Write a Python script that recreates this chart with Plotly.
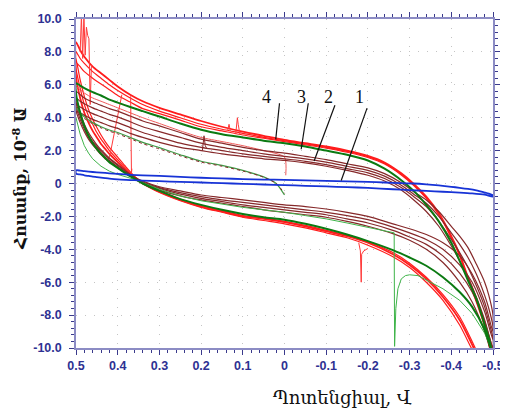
import plotly.graph_objects as go

# ---------------- data ----------------
XU = [0.50, 0.49, 0.48, 0.46, 0.44, 0.42, 0.40, 0.37, 0.34, 0.30, 0.25, 0.20, 0.15, 0.10, 0.05, 0.00,
      -0.05, -0.10, -0.15, -0.20, -0.24, -0.28, -0.31, -0.34, -0.37, -0.40, -0.42, -0.44, -0.46, -0.48, -0.49, -0.50]
XL = [0.50, 0.49, 0.48, 0.47, 0.46, 0.45, 0.44, 0.43, 0.42, 0.40, 0.38, 0.36, 0.34, 0.30, 0.25, 0.20, 0.15, 0.10,
      0.05, 0.00, -0.05, -0.10, -0.15, -0.20, -0.26, -0.30, -0.34, -0.38, -0.42, -0.45, -0.48, -0.50]

# curve 4 (red)
RU1 = [8.6, 8.1, 7.7, 7.1, 6.7, 6.3, 5.9, 5.4, 5.0, 4.6, 4.2, 3.8, 3.45, 3.15, 2.9, 2.65, 2.45, 2.25, 2.0, 1.68,
       1.28, 0.62, -0.02, -0.8, -1.8, -3.2, -4.3, -5.7, -7.0, -8.5, -9.6, -10.8]
RU2 = [8.0, 7.6, 7.3, 6.8, 6.4, 6.0, 5.65, 5.2, 4.8, 4.4, 4.0, 3.6, 3.3, 3.05, 2.8, 2.6, 2.4, 2.2, 1.95, 1.63,
       1.23, 0.57, -0.07, -0.85, -1.85, -3.25, -4.35, -5.75, -7.1, -8.6, -9.7, -10.9]
RU3 = [7.4, 7.1, 6.8, 6.4, 6.05, 5.7, 5.35, 4.95, 4.55, 4.25, 3.85, 3.45, 3.2, 2.95, 2.75, 2.55, 2.35, 2.15, 1.9, 1.58,
       1.18, 0.52, -0.12, -0.9, -1.9, -3.3, -4.4, -5.8, -7.2, -8.7, -9.8, -11.0]
RL1 = [6.5, 5.2, 4.3, 3.7, 3.2, 2.8, 2.4, 2.1, 1.8, 1.3, 0.8, 0.35, 0.0, -0.5, -1.0, -1.4, -1.7, -2.0, -2.15, -2.35,
       -2.6, -2.9, -3.2, -3.6, -4.3, -4.95, -5.8, -6.9, -8.3, -9.8, -11.5, -12.5]
RL2 = [7.0, 5.8, 4.8, 4.1, 3.6, 3.1, 2.7, 2.35, 2.0, 1.45, 0.9, 0.4, 0.0, -0.55, -1.05, -1.45, -1.75, -2.05, -2.25, -2.45,
       -2.7, -3.0, -3.3, -3.75, -4.45, -5.1, -6.0, -7.1, -8.6, -10.1, -11.5, -12.5]
RL3 = [7.6, 6.3, 5.3, 4.5, 3.9, 3.4, 2.95, 2.55, 2.2, 1.6, 1.0, 0.45, 0.05, -0.45, -0.95, -1.35, -1.65, -1.95, -2.1, -2.3,
       -2.55, -2.85, -3.15, -3.55, -4.2, -4.85, -5.7, -6.75, -8.1, -9.6, -11.3, -12.5]
XRP = [0.50, 0.49, 0.48, 0.46, 0.44, 0.42, 0.40, 0.37, 0.34, 0.30, 0.25, 0.20, 0.15, 0.10, 0.05, 0.00, -0.003]
RP = [5.9, 5.7, 5.5, 5.2, 5.0, 4.8, 4.6, 4.3, 4.0, 3.65, 3.2, 2.8, 2.55, 2.3, 2.0, 1.6, 0.5]
NOISE_X = [0.49, 0.487, 0.484, 0.481, 0.478, 0.475, 0.472, 0.469, 0.466, 0.463, None,
           0.39, 0.397, 0.405, 0.413, 0.418, 0.422, None,
           0.369, 0.368, 0.367, 0.366, None,
           0.117, 0.113, 0.111, 0.107, None,
           0.136, 0.133, 0.130, None,
           -0.178, -0.182, -0.184, -0.185, -0.19, -0.2]
NOISE_Y = [8.0, 10.2, 7.6, 10.2, 7.8, 9.5, 9.0, 8.8, 4.8, 7.2, None,
           5.4, 4.5, 3.5, 2.4, 1.8, 1.5, None,
           5.3, 2.0, 0.6, 0.9, None,
           3.0, 4.0, 3.6, 3.0, None,
           3.25, 3.6, 3.2, None,
           -3.6, -4.1, -6.0, -4.3, -4.1, -3.95]

# curve 2 (maroon)
MU1 = [5.6, 5.4, 5.2, 4.95, 4.75, 4.55, 4.4, 4.1, 3.8, 3.5, 3.1, 2.7, 2.45, 2.2, 2.0, 1.85, 1.65, 1.45, 1.2, 0.95,
       0.6, 0.05, -0.5, -1.0, -1.7, -2.6, -3.2, -3.9, -4.9, -6.0, -6.8, -8.0]
MU2 = [5.2, 5.0, 4.85, 4.6, 4.4, 4.2, 4.05, 3.75, 3.45, 3.15, 2.8, 2.45, 2.2, 2.0, 1.8, 1.65, 1.5, 1.3, 1.05, 0.8,
       0.45, -0.1, -0.65, -1.2, -2.0, -3.0, -3.7, -4.5, -5.5, -6.8, -7.6, -8.7]
MU3 = [4.8, 4.65, 4.5, 4.25, 4.05, 3.85, 3.7, 3.4, 3.1, 2.8, 2.45, 2.2, 2.0, 1.8, 1.65, 1.5, 1.35, 1.15, 0.9, 0.65,
       0.3, -0.25, -0.8, -1.4, -2.3, -3.4, -4.2, -5.1, -6.2, -7.5, -8.4, -9.4]
MU4 = [4.4, 4.3, 4.15, 3.9, 3.7, 3.5, 3.35, 3.05, 2.8, 2.5, 2.2, 2.0, 1.8, 1.65, 1.5, 1.4, 1.25, 1.05, 0.8, 0.5,
       0.15, -0.4, -1.0, -1.7, -2.6, -3.8, -4.7, -5.7, -6.9, -8.3, -9.2, -10.2]
ML1 = [5.3, 4.3, 3.6, 3.1, 2.7, 2.35, 2.05, 1.8, 1.55, 1.15, 0.75, 0.4, 0.15, -0.2, -0.45, -0.7, -0.85, -1.0, -1.15, -1.3,
       -1.4, -1.55, -1.75, -2.0, -2.45, -2.75, -3.1, -3.6, -4.4, -5.5, -7.2, -9.0]
ML2 = [5.0, 4.1, 3.45, 2.95, 2.55, 2.25, 1.95, 1.7, 1.5, 1.1, 0.7, 0.35, 0.1, -0.25, -0.55, -0.8, -1.0, -1.15, -1.3, -1.45,
       -1.6, -1.75, -1.95, -2.2, -2.65, -3.0, -3.4, -4.0, -4.95, -6.0, -7.8, -9.5]
ML3 = [4.7, 3.9, 3.3, 2.8, 2.45, 2.15, 1.85, 1.6, 1.4, 1.0, 0.65, 0.3, 0.05, -0.3, -0.65, -0.9, -1.1, -1.3, -1.45, -1.6,
       -1.75, -1.9, -2.15, -2.4, -2.85, -3.25, -3.7, -4.4, -5.45, -6.6, -8.4, -10.0]
ML4 = [4.4, 3.7, 3.15, 2.7, 2.35, 2.05, 1.75, 1.5, 1.3, 0.95, 0.6, 0.3, 0.0, -0.4, -0.75, -1.0, -1.2, -1.4, -1.6, -1.75,
       -1.9, -2.05, -2.3, -2.6, -3.05, -3.45, -4.0, -4.8, -6.0, -7.2, -9.0, -10.6]
MS_X = [0.197, 0.193, 0.19, 0.186]
MS_Y = [2.0, 2.9, 2.3, 2.1]
XMP = [0.50, 0.49, 0.48, 0.46, 0.44, 0.42, 0.40, 0.37, 0.34, 0.30, 0.25, 0.20, 0.15, 0.10, 0.05, 0.02, 0.00]
MP = [4.5, 4.2, 3.95, 3.62, 3.38, 3.18, 3.02, 2.72, 2.42, 2.1, 1.68, 1.3, 1.05, 0.76, 0.38, 0.0, -0.6]

# curve 3 (green)
GU1 = [6.1, 5.95, 5.8, 5.55, 5.35, 5.1, 4.92, 4.65, 4.4, 4.07, 3.65, 3.27, 3.0, 2.8, 2.6, 2.45, 2.25, 2.0, 1.75, 1.4,
       0.9, 0.2, -0.45, -1.3, -2.3, -3.6, -4.7, -5.9, -7.0, -8.6, -9.4, -10.5]
GL1 = [5.5, 4.3, 3.5, 2.9, 2.45, 2.1, 1.8, 1.55, 1.3, 0.95, 0.6, 0.3, 0.0, -0.45, -0.95, -1.3, -1.6, -1.85, -2.05, -2.2,
       -2.45, -2.75, -3.1, -3.5, -4.05, -4.5, -5.0, -5.7, -6.6, -7.5, -8.9, -10.5]
XG2U = [0.50, 0.49, 0.48, 0.46, 0.44, 0.42, 0.40, 0.37, 0.34, 0.30, 0.25, 0.20, 0.15, 0.10, 0.05, 0.02, 0.00]
GU2 = [4.6, 4.3, 4.05, 3.7, 3.45, 3.25, 3.1, 2.8, 2.5, 2.18, 1.75, 1.35, 1.1, 0.8, 0.4, 0.0, -0.7]
XG2L = [0.50, 0.49, 0.48, 0.47, 0.46, 0.45, 0.44, 0.43, 0.42, 0.40, 0.38, 0.36, 0.34, 0.30, 0.25, 0.20, 0.15, 0.10,
        0.05, 0.00, -0.05, -0.10, -0.15, -0.20, -0.263, -0.264, -0.267, -0.272, -0.28, -0.29, -0.30, -0.32, -0.34,
        -0.38, -0.42, -0.45, -0.48, -0.50]
GL2 = [4.0, 3.0, 2.3, 1.85, 1.5, 1.25, 1.05, 0.9, 0.75, 0.55, 0.4, 0.25, 0.05, -0.35, -0.75, -1.05, -1.25, -1.45,
       -1.6, -1.75, -1.95, -2.15, -2.4, -2.65, -3.0, -9.9, -7.6, -6.4, -5.8, -5.6, -5.55, -5.6, -5.85,
       -6.4, -7.1, -7.9, -9.1, -10.3]

# curve 1 (blue)
BU = [0.8, 0.78, 0.75, 0.7, 0.66, 0.62, 0.58, 0.53, 0.5, 0.46, 0.4, 0.35, 0.31, 0.27, 0.24, 0.22, 0.19, 0.16, 0.13, 0.1,
      0.06, 0.02, 0.0, -0.05, -0.12, -0.2, -0.26, -0.33, -0.42, -0.55, -0.62, -0.72]
BL = [0.6, 0.55, 0.5, 0.46, 0.42, 0.39, 0.36, 0.33, 0.3, 0.25, 0.22, 0.2, 0.18, 0.14, 0.1, 0.06, 0.02, -0.02, -0.06, -0.1,
      -0.14, -0.18, -0.22, -0.27, -0.35, -0.4, -0.45, -0.5, -0.55, -0.6, -0.68, -0.8]

X_TICKS = [0.5, 0.4, 0.3, 0.2, 0.1, 0.0, -0.1, -0.2, -0.3, -0.4, -0.5]
X_TICKTEXT = ["0.5", "0.4", "0.3", "0.2", "0.1", "0", "-0.1", "-0.2", "-0.3", "-0.4", "-0.5"]
Y_TICKS = [10, 8, 6, 4, 2, 0, -2, -4, -6, -8, -10]
Y_TICKTEXT = ["10.0", "8.0", "6.0", "4.0", "2.0", "0", "-2.0", "-4.0", "-6.0", "-8.0", "-10.0"]

CURVE_LABELS = ["4", "3", "2", "1"]
LABEL_X = [0.043, -0.040, -0.105, -0.181]
LABEL_Y = [5.24, 5.24, 5.24, 5.24]
LEADER_X0 = [0.012, -0.057, -0.121, -0.198]
LEADER_Y0 = [4.88, 4.88, 4.76, 4.58]
LEADER_X1 = [0.021, -0.040, -0.071, -0.136]
LEADER_Y1 = [2.68, 2.08, 1.37, 0.18]

# ---------------- figure ----------------
RED = "#ff1c1c"
MAROON = "#86292a"
DKGREEN = "#0b7a12"
LTGREEN = "#3fb44a"
BLUE = "#1733d6"

fig = go.Figure()


def loop(xu, yu, xl, yl, color, width):
    xs = list(xu) + list(reversed(xl)) + [xu[0]]
    ys = list(yu) + list(reversed(yl)) + [yu[0]]
    fig.add_trace(go.Scatter(x=xs, y=ys, mode="lines",
                             line=dict(color=color, width=width, shape="spline", smoothing=0.7),
                             showlegend=False, hoverinfo="skip"))


def line(xs, ys, color, width, dash="solid", smooth=False):
    ln = dict(color=color, width=width, dash=dash)
    if smooth:
        ln.update(shape="spline", smoothing=0.7)
    fig.add_trace(go.Scatter(x=xs, y=ys, mode="lines", line=ln,
                             showlegend=False, hoverinfo="skip", connectgaps=False))


# red (curve 4)
loop(XU, RU3, XL, RL3, RED, 1.2)
loop(XU, RU2, XL, RL2, RED, 1.2)
loop(XU, RU1, XL, RL1, RED, 1.8)
line(XRP, RP, "#f05a5a", 1.0, smooth=True)
line(NOISE_X, NOISE_Y, "#ff3a3a", 1.0)

# maroon (curve 2)
for mu, ml in [(MU1, ML1), (MU2, ML2), (MU3, ML3), (MU4, ML4)]:
    loop(XU, mu, XL, ml, MAROON, 1.2)
line(MS_X, MS_Y, MAROON, 1.0)

# green (curve 3)
line(XG2U, GU2, "#3f9a45", 1.2, smooth=True)
line(XMP, MP, MAROON, 1.0, dash="dot", smooth=True)
line(XG2L, GL2, LTGREEN, 1.0)
loop(XU, GU1, XL, GL1, DKGREEN, 2.0)

# blue (curve 1)
loop(XU, BU, XL, BL, BLUE, 1.8)

for i, lab in enumerate(CURVE_LABELS):
    fig.add_annotation(x=LABEL_X[i], y=LABEL_Y[i], text=lab, showarrow=False,
                       font=dict(family="Liberation Serif", size=18, color="#111111"))
    fig.add_shape(type="line", x0=LEADER_X0[i], y0=LEADER_Y0[i], x1=LEADER_X1[i], y1=LEADER_Y1[i],
                  line=dict(color="#111111", width=1.2))

axis_common = dict(
    showline=True, linecolor="#8c8cc4", linewidth=1.5, mirror="ticks",
    ticks="outside", ticklen=5, tickcolor="#3a3a8c", tickwidth=1,
    showgrid=True, gridcolor="#c4c4c4", griddash="1px,8px", gridwidth=1.3,
    zeroline=False,
)

fig.update_xaxes(range=[0.5, -0.5], tickmode="array", tickvals=X_TICKS, ticktext=X_TICKTEXT,
                 ticklabelstandoff=0,
                 tickfont=dict(family="Arial", size=12.5, color="#2e3192", weight="bold"),
                 minor=dict(dtick=0.02, ticks="outside", ticklen=3, tickcolor="#3a3a8c", showgrid=False),
                 **axis_common)
fig.update_yaxes(range=[-10, 10], tickmode="array", tickvals=Y_TICKS, ticktext=Y_TICKTEXT,
                 ticklabelstandoff=5,
                 tickfont=dict(family="Arial", size=12.5, color="#2e3192", weight="bold"),
                 minor=dict(dtick=0.4, ticks="outside", ticklen=3, tickcolor="#3a3a8c", showgrid=False),
                 **axis_common)

fig.add_annotation(xref="paper", yref="paper", x=-0.136, y=0.515, xanchor="center", yanchor="middle",
                   textangle=-90, text="Հոսանք, 10<sup>-8</sup> Ա", showarrow=False,
                   font=dict(family="DejaVu Serif", size=16, color="#111111", weight="bold"))
fig.add_annotation(xref="paper", yref="paper", x=0.639, y=-0.149, xanchor="center", yanchor="middle",
                   text="Պոտենցիալ, Վ", showarrow=False,
                   font=dict(family="DejaVu Serif", size=18, color="#111111"))

# the page body adds an 8px margin, so the figure is sized to fill the 508x415 window
fig.update_layout(
    width=500, height=407,
    margin=dict(l=68, r=11, t=4, b=67),
    paper_bgcolor="white", plot_bgcolor="white",
)

fig.write_html("out.html")
